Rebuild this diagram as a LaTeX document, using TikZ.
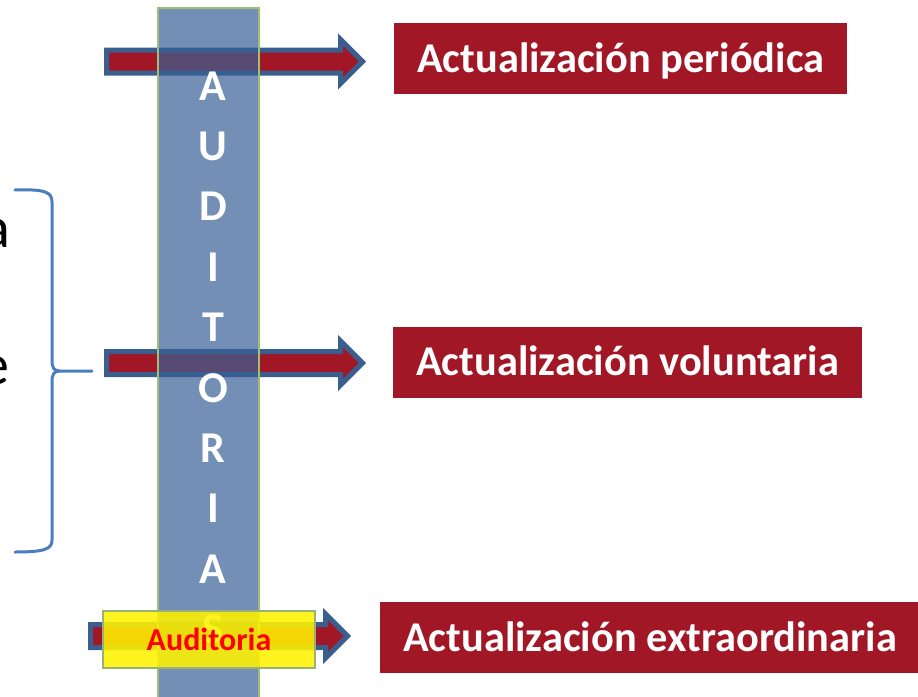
\documentclass[tikz,border=0pt]{standalone}
\usepackage{fontspec}
\setmainfont{Carlito}
\definecolor{rojo}{RGB}{161,23,38}
\definecolor{azulflecha}{RGB}{58,94,142}
\definecolor{azulcol}{RGB}{56,96,149}
\definecolor{verde}{RGB}{160,190,120}
\definecolor{azulllave}{RGB}{74,126,193}

\begin{document}
\begin{tikzpicture}[x=1pt, y=-1pt,
    caja/.style={fill=rojo, text=white, font=\fontsize{42.4}{48}\selectfont\bfseries,
        anchor=west, inner xsep=23pt, inner ysep=0pt, minimum height=71pt,
        text height=27pt, text depth=0pt},
    flecha/.style={draw=azulflecha, fill=rojo, line width=5pt, line join=miter},
    columna/.style={draw=verde, line width=1.5pt, fill=azulcol, fill opacity=0.7,
        minimum width=101pt, minimum height=692pt, inner sep=0pt},
    letra/.style={text=white, font=\fontsize{44}{50}\selectfont\bfseries,
        anchor=base, inner sep=0pt},
    etiqueta/.style={draw=verde!80!gray, line width=1.5pt, fill=yellow, fill opacity=0.88,
        text opacity=1, text=red, font=\fontsize{32}{36}\selectfont\bfseries,
        minimum width=212pt, minimum height=57pt, inner sep=0pt},
    corte/.style={anchor=base east, inner sep=0pt, font=\fontsize{58}{64}\selectfont},
    llave/.style={draw=azulllave, line width=3pt, line cap=round}]
    \useasboundingbox (0,0) rectangle (918,696);

    \node[caja] (periodica) at (394,58.5) {Actualización periódica};
    \node[caja] (voluntaria) at (393,362) {Actualización voluntaria};
    \node[caja] (extraordinaria) at (380,637.5) {\makebox[492pt][l]{Actualización extraordinaria}};

    \node[corte] (frag1) at (10,247) {a};
    \node[corte] (frag2) at (10,384) {e};
    \draw[llave] (15,190) .. controls (45,189) and (52,192) .. (52,202) -- (52,360)
        .. controls (52,368) and (54,371) .. (60,371) coordinate (punta) -- (92,371);
    \draw[llave] (punta) .. controls (54,371) and (52,374) .. (52,382) -- (52,540)
        .. controls (52,549) and (45,552) .. (15,552);

    \foreach \cola/\y/\tip in {106.5/61.5/362.5, 106.5/363/362.5, 90.5/636/347.5} {
        \draw[flecha] (\cola,{\y-11.5}) -- ({\tip-22},{\y-11.5}) -- ({\tip-22},{\y-22})
            -- (\tip,\y) -- ({\tip-22},{\y+22}) -- ({\tip-22},{\y+11.5})
            -- (\cola,{\y+11.5}) -- cycle;
    }

    \node[columna] (columna) at (208.5,354) {};
    \foreach \letra [count=\i from 0] in {A,U,D,I,T,O,R,I,A,S} {
        \node[letra] (l\i) at (213,{100+60.4*\i}) {\letra};
    }

    \node[etiqueta] (auditoria) at (209,639.5) {Auditoria};
\end{tikzpicture}
\end{document}
